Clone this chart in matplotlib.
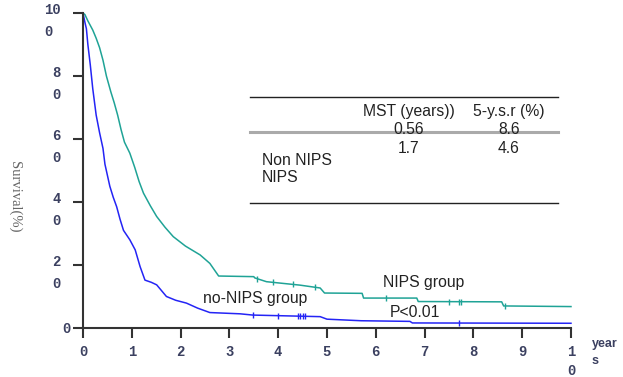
import numpy as np
import matplotlib
matplotlib.use("Agg")
import matplotlib.pyplot as plt
from matplotlib.transforms import ScaledTranslation

# ---- data ----
nips_t = [0, 0.04, 0.1, 0.2, 0.27, 0.34, 0.41, 0.48, 0.57, 0.64, 0.71, 0.78, 0.85, 0.96, 1.06, 1.15,
          1.24, 1.38, 1.51, 1.68, 1.85, 2.1, 2.4, 2.6, 2.78, 3.5, 3.52, 3.76, 4.45, 4.86, 4.95,
          5.72, 5.75, 6.84, 6.87, 8.58, 8.62, 10.0]
nips_s = [100, 99.5, 97.5, 94.6, 92, 89, 85, 80, 75, 71.5, 67.6, 63, 59, 55.5, 51, 46.5,
          42.8, 38.8, 35.4, 32, 29, 26, 23.2, 20.5, 16.5, 16.3, 15.9, 14.7, 13.6, 12.7, 11.1,
          11.0, 9.5, 9.5, 8.4, 8.3, 7.0, 6.8]

non_t = [0, 0.02, 0.04, 0.07, 0.1, 0.15, 0.2, 0.27, 0.34, 0.41, 0.45, 0.55, 0.62, 0.69, 0.76,
         0.83, 0.96, 1.07, 1.17, 1.27, 1.4, 1.51, 1.71, 1.9, 2.12, 2.35, 2.6, 3.22, 3.48, 4.86,
         5.0, 5.7, 6.7, 6.75, 10.0]
non_s = [100, 98.5, 97, 95, 90, 83.5, 76, 67.6, 62, 57, 52, 45, 41.5, 38.5, 34.5,
         31, 28, 24.8, 19.5, 15.2, 14.5, 13.7, 10, 8.8, 7.9, 6.3, 4.9, 4.5, 4.1, 3.6,
         2.8, 2.3, 2.1, 1.6, 1.5]

nips_censor = [3.57, 3.9, 4.3, 4.75, 6.2, 7.5, 7.7, 7.75, 8.65]
non_censor = [3.48, 4.0, 4.4, 4.45, 4.5, 4.55, 7.7]

xticks = [0, 1, 2, 3, 4, 5, 6, 7, 8, 9, 10]
xtick_labels = ["0", "1", "2", "3", "4", "5", "6", "7", "8", "9", "1\n0"]
yticks = [0, 20, 40, 60, 80, 100]
ytick_labels = ["0", "2\n0", "4\n0", "6\n0", "8\n0", "10\n0"]

table_cols = ["MST (years))", "5-y.s.r (%)"]
table_rows = [["0.56", "8.6"], ["1.7", "4.6"]]
group_names = ["Non NIPS", "NIPS"]

teal = "#1fa396"
blue = "#2424f5"
tick_color = "#3b4060"

fig = plt.figure(figsize=(6.23, 3.77), dpi=100)
ax = fig.add_axes([0.1332, 0.130, 0.9165 - 0.1332, 0.978 - 0.130])

ax.plot(nips_t, nips_s, color=teal, lw=1.1, clip_on=False)
ax.plot(non_t, non_s, color=blue, lw=1.1, clip_on=False)
ax.plot(nips_censor, np.interp(nips_censor, nips_t, nips_s), ls="none", marker="|",
        ms=4, mew=1.0, color=teal)
ax.plot(non_censor, np.interp(non_censor, non_t, non_s), ls="none", marker="|",
        ms=4, mew=1.0, color=blue)

ax.set_xlim(0, 10)
ax.set_ylim(0, 101.5)
for s in ["top", "right"]:
    ax.spines[s].set_visible(False)
for s in ["left", "bottom"]:
    ax.spines[s].set_color("#333333")
    ax.spines[s].set_linewidth(1.5)
ax.spines["left"].set_bounds(0, 100)

tick_font = dict(family="Liberation Mono", weight="bold", size=10)
ax.set_xticks(xticks)
ax.set_xticklabels(xtick_labels, color=tick_color, fontdict=tick_font, linespacing=1.45)
ax.set_yticks(yticks)
ax.set_yticklabels(ytick_labels, color=tick_color, fontdict=tick_font, linespacing=1.7)
ax.tick_params(axis="both", direction="out", length=7, width=1.5, color="#333333")
ax.tick_params(axis="x", pad=5)
ax.tick_params(axis="y", pad=2)

for lab in ax.get_yticklabels():
    if "\n" in lab.get_text():
        lab.set_va("top")
        lab.set_multialignment("left")
        lab.set_transform(lab.get_transform() +
                          ScaledTranslation(-7 / 72, 7 / 72, fig.dpi_scale_trans))

ax.text(10.43, -3.2, "year\ns", fontdict=dict(family="Liberation Sans", weight="bold", size=9),
        color=tick_color, ha="left", va="top", linespacing=1.5, clip_on=False)

fig.text(0.024, 0.477, "Survival(%)", rotation=270, ha="center", va="center",
         family="Liberation Serif", fontsize=10.5, color="#666666")

# table
tx0, tx1 = 3.42, 9.73
ax.plot([tx0, tx1], [73.4, 73.4], color="#222222", lw=1.0)
ax.plot([tx0, tx1], [62.3, 62.3], color="#aaaaaa", lw=2.2)
ax.plot([tx0, tx1], [39.7, 39.7], color="#222222", lw=1.0)
tf = dict(family="Liberation Sans", size=11.3, color="#222222")
col_x = [6.67, 8.73]
for cx, name in zip(col_x, table_cols):
    ax.text(cx, 68.7, name, ha="center", va="center", **tf)
row_y = [63.0, 57.0]
for ry, row in zip(row_y, table_rows):
    for cx, v in zip(col_x, row):
        ax.text(cx, ry, v, ha="center", va="center", **tf)
name_y = [53.3, 47.7]
for ny, nm in zip(name_y, group_names):
    ax.text(3.66, ny, nm, ha="left", va="center", **tf)

ax.text(2.46, 9.5, "no-NIPS group", ha="left", va="center", **tf)
ax.text(6.98, 14.3, "NIPS group", ha="center", va="center", **tf)
ax.text(6.8, 5.0, "P<0.01", ha="center", va="center", **tf)

fig.savefig("out.png", dpi=100)
